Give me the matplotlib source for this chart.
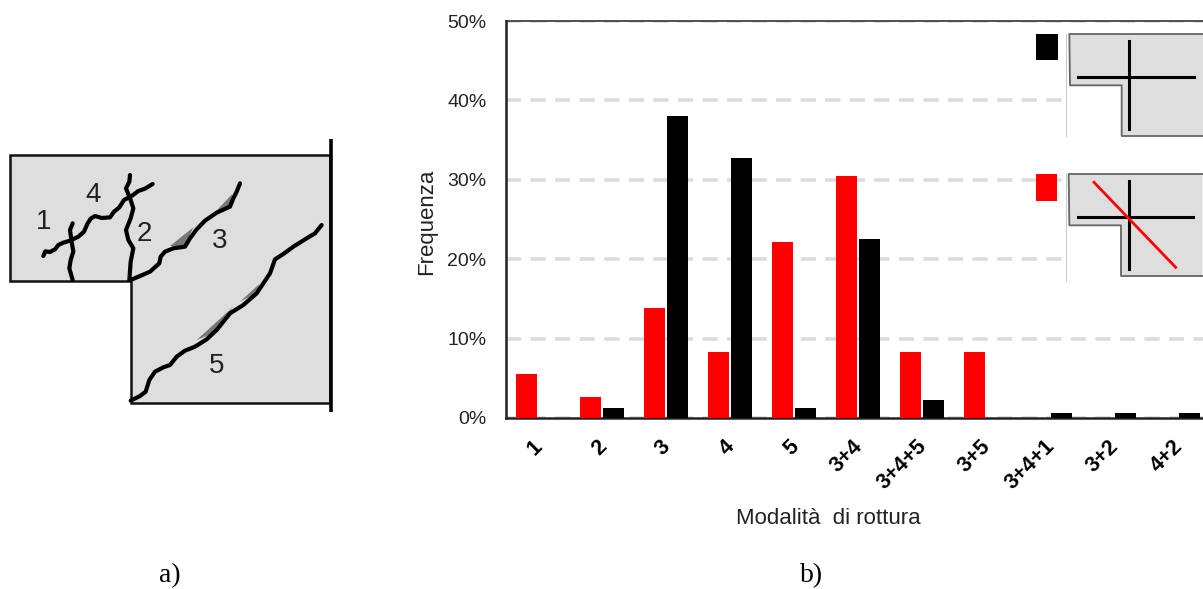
"""Failure modes: crack sketch (a) and frequency bars (b)."""
import matplotlib
matplotlib.use("Agg")
import matplotlib.pyplot as plt
import numpy as np
from matplotlib.patches import Polygon, Rectangle
from matplotlib.transforms import ScaledTranslation

W, H = 1203, 589

CATEGORIES = ["1", "2", "3", "4", "5", "3+4", "3+4+5", "3+5", "3+4+1", "3+2", "4+2"]
RED_VALUES = [5.5, 2.7, 13.9, 8.3, 22.2, 30.5, 8.3, 8.3, 0, 0, 0]
BLACK_VALUES = [0, 1.2, 38.0, 32.7, 1.2, 22.6, 2.3, 0, 0.6, 0.6, 0.6]
Y_TICKS = [0, 10, 20, 30, 40, 50]

# sketch outlines, in pixels of the reference
SPECIMEN = [(10, 155), (330, 155), (330, 403), (131, 403), (131, 281), (10, 281)]
SKETCH_LABELS = [("1", 44, 222), ("4", 93, 195), ("2", 144, 234), ("3", 220, 241), ("5", 217, 366)]

CRACK_4 = [(130, 378), (136, 364), (150, 366), (165, 358), (175, 345), (190, 338), (210, 332), (235, 320),
           (252, 305), (262, 282), (272, 266), (285, 258), (305, 264), (330, 262), (342, 245), (358, 232),
           (372, 210), (395, 198), (415, 183), (435, 176), (458, 162)]
CRACK_1 = [(218, 280), (210, 300), (214, 330), (220, 365), (212, 390), (208, 415), (218, 450)]
CRACK_2 = [(390, 135), (388, 155), (378, 175), (392, 210), (400, 235), (392, 265), (378, 300), (385, 330),
           (400, 355), (392, 395), (388, 450)]
CRACK_3 = [(392, 450), (420, 438), (450, 425), (478, 400), (482, 380), (495, 365), (520, 355), (555, 350),
           (570, 325), (590, 298), (615, 272), (650, 248), (690, 230), (700, 205), (710, 185), (720, 160)]
CRACK_5 = [(392, 812), (420, 798), (437, 785), (448, 750), (465, 725), (490, 712), (510, 705), (530, 680),
           (555, 662), (585, 650), (620, 628), (650, 600), (690, 550), (730, 525), (770, 490), (790, 460),
           (810, 430), (825, 388), (850, 372), (880, 350), (920, 325), (945, 310), (965, 285)]
SHADES = [
    [(510, 348), (580, 292), (555, 348)],
    [(640, 252), (697, 192), (690, 230)],
    [(590, 630), (700, 530), (640, 610)],
    [(720, 515), (778, 462), (770, 490)],
]

KEY_OUTLINE = [(549, 42), (148, 42), (150, 196), (305, 196), (305, 348), (549, 348)]
KEY_H = [(175, 171), (522, 171)]
KEY_V = [(328, 62), (328, 326)]
KEY_RED_OFFSET = (-2, 420)
KEY_DIAGONAL = [(222, 487), (467, 742)]

plt.rcParams["font.family"] = ["Liberation Sans", "DejaVu Sans"]

fig = plt.figure(figsize=(W / 100, H / 100), dpi=100)
fig.patch.set_facecolor("white")

# bar chart
left, right, top, bottom = 506, 1203, 21, 418
ax = fig.add_axes([left / W, 1 - bottom / H, (right - left) / W, (bottom - top) / H])
x = np.arange(len(CATEGORIES))
ax.bar(x - 0.183, RED_VALUES, width=0.33, color="#ff0000", zorder=3)
ax.bar(x + 0.183, BLACK_VALUES, width=0.33, color="black", zorder=3)
ax.set_xlim(-0.5, -0.5 + (right - left) / 64)
ax.set_ylim(0, 50)
ax.set_yticks(Y_TICKS)
ax.set_yticklabels([f"{v}%" for v in Y_TICKS], fontsize=14, color="#222222")
ax.set_xticks(x)
ax.set_xticklabels(CATEGORIES, fontsize=15.5, fontweight="bold", rotation=45, ha="right",
                   rotation_mode="anchor", color="black")
ax.tick_params(axis="x", length=0, pad=13)
ax.tick_params(axis="y", length=0, pad=14)
shift = ScaledTranslation(-6 / 100, 0, fig.dpi_scale_trans)
for tick_label in ax.get_xticklabels():
    tick_label.set_transform(tick_label.get_transform() + shift)
ax.yaxis.grid(True, color="#dcdcdc", lw=2.6, ls=(0, (4.2, 2.6)), zorder=1)
ax.set_axisbelow(True)
for name in ["top", "left", "bottom"]:
    ax.spines[name].set_linewidth(1.8)
    ax.spines[name].set_color("#222222")
ax.spines["right"].set_visible(False)
ax.spines["top"].set_linewidth(1.1)
ax.set_ylabel("Frequenza", fontsize=16, color="#222222", va="center")
ax.yaxis.set_label_coords((427 - left) / (right - left), 0.494)
fig.text(828 / W, 1 - 519 / H, "Modalità  di rottura", fontsize=16, color="#222222", ha="center", va="center")

# overlay in reference pixels, for the sketch and the keys
ov = fig.add_axes([0, 0, 1, 1])
ov.set_xlim(0, W)
ov.set_ylim(H, 0)
ov.axis("off")
ov.patch.set_alpha(0)


def sketch(points):
    return [(px / 3, 130 + py / 3) for px, py in points]


def key(points, dx=0, dy=0):
    return [(1020 + (px + dx) / 3, 20 + (py + dy) / 3) for px, py in points]


ov.add_patch(Polygon(SPECIMEN, closed=True, fc="#dedede", ec="#111111", lw=1.8, joinstyle="miter"))
ov.plot([331, 331], [139, 412], color="black", lw=2.6, solid_capstyle="butt")
for shade in SHADES:
    ov.add_patch(Polygon(sketch(shade), closed=True, fc="#777777", ec="none"))
for crack in [CRACK_4, CRACK_1, CRACK_2, CRACK_3, CRACK_5]:
    pts = sketch(crack)
    ov.plot([p[0] for p in pts], [p[1] for p in pts], color="black", lw=3,
            solid_capstyle="round", solid_joinstyle="round")
for label, lx, ly in SKETCH_LABELS:
    ov.text(lx, ly, label, fontsize=20, color="#222222", ha="center", va="center")

ov.text(170, 576, "a)", family="Liberation Serif", fontsize=20, ha="center", va="center")
ov.text(812, 576, "b)", family="Liberation Serif", fontsize=20, ha="center", va="center")

# white area behind the keys hides the gridlines
ov.add_patch(Rectangle((1065, 24), W - 1065, 260, fc="white", ec="none"))
ov.plot([1065.5, 1065.5], [34, 136], color="#cccccc", lw=0.8)
ov.plot([1065.5, 1065.5], [174, 281], color="#cccccc", lw=0.8)

for dx, dy in [(0, 0), KEY_RED_OFFSET]:
    pts = key(KEY_OUTLINE, dx, dy)
    ov.add_patch(Polygon(pts, closed=True, fc="#dedede", ec="none"))
    ov.plot([p[0] for p in pts], [p[1] for p in pts], color="#666666", lw=1.3)
    for seg in [KEY_H, KEY_V]:
        s = key(seg, dx, dy)
        ov.plot([s[0][0], s[1][0]], [s[0][1], s[1][1]], color="black", lw=2.2)
d = key(KEY_DIAGONAL)
ov.plot([d[0][0], d[1][0]], [d[0][1], d[1][1]], color="#ff0000", lw=2.0)

ov.add_patch(Rectangle((1035.5, 33.5), 22, 26.5, fc="black", ec="none"))
ov.add_patch(Rectangle((1035.5, 173.5), 21, 27, fc="#ff0000", ec="none"))

fig.savefig("out.png", dpi=100)
